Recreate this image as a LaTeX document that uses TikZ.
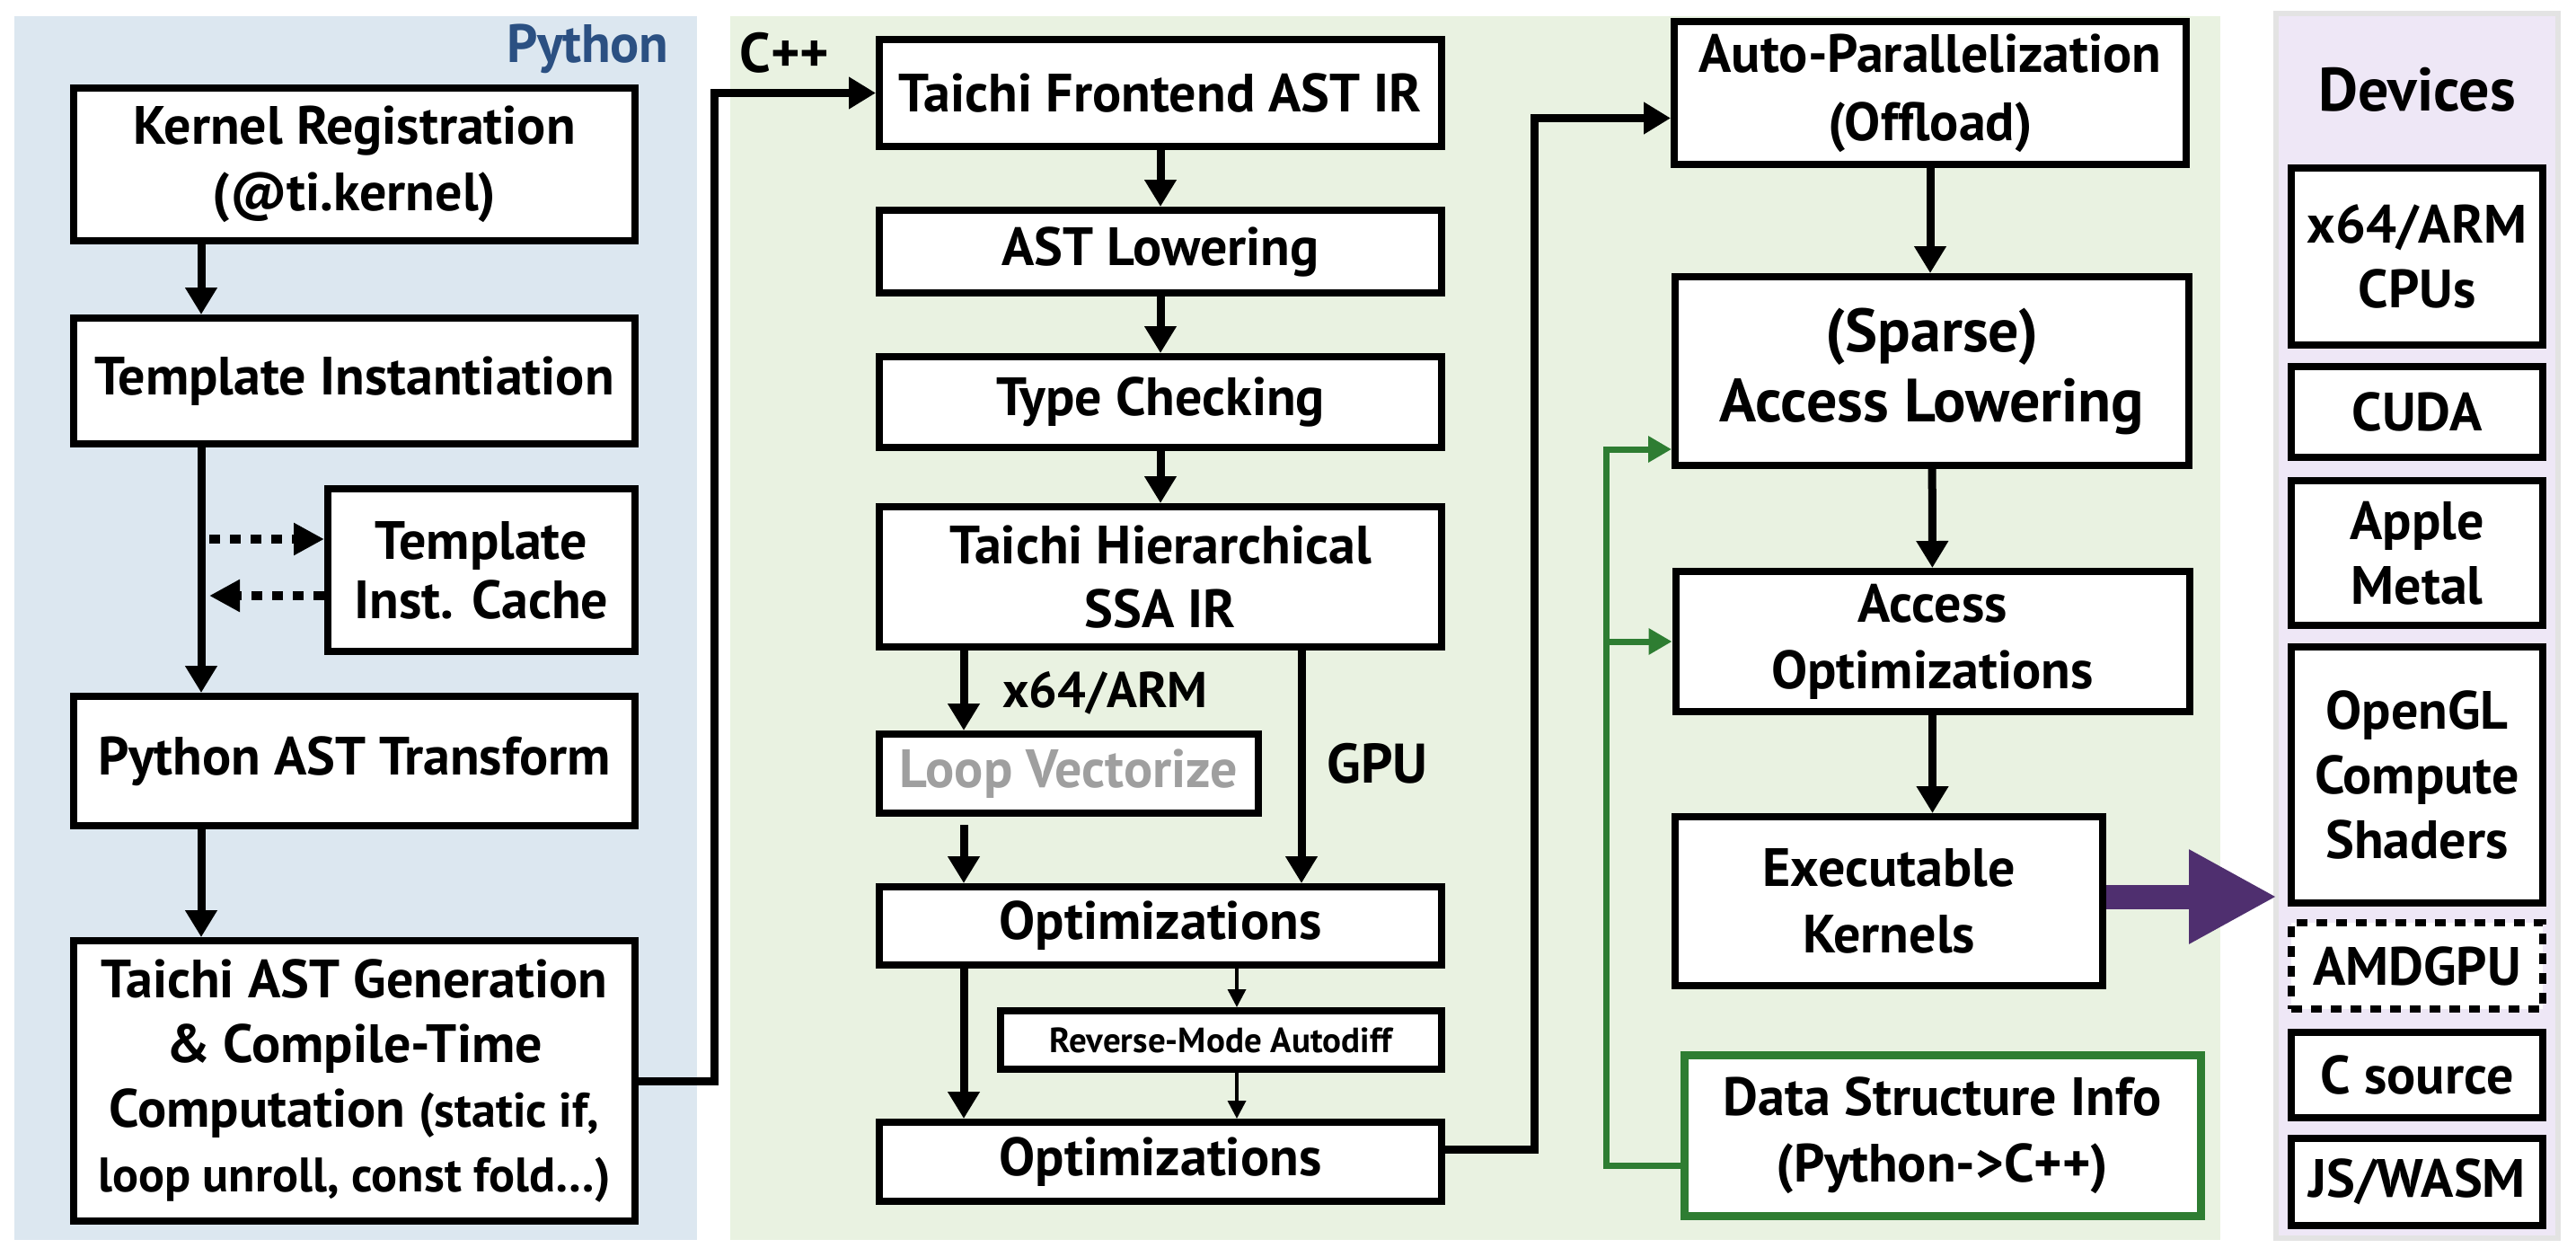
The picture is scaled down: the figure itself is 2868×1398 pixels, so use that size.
\documentclass[tikz,border=0pt]{standalone}
\usepackage{fontspec}
\setmainfont{PT Sans}
\usetikzlibrary{arrows.meta}

\definecolor{pyblue}{HTML}{DCE7F0}
\definecolor{cppgreen}{HTML}{E9F2E1}
\definecolor{devpurple}{HTML}{EEE7F6}
\definecolor{pytext}{HTML}{2B5082}
\definecolor{dsgreen}{HTML}{2E7D32}
\definecolor{kernpurple}{HTML}{4F2F6F}

\tikzset{
  box/.style={draw, line width=4pt, fill=white, align=center, inner sep=0pt,
    font=\fontsize{30}{37}\selectfont\bfseries},
  pybox/.style={box, minimum width=312.5pt},
  cbox/.style={box, minimum width=313pt},
  rbox/.style={box, minimum width=286pt},
  devbox/.style={box, minimum width=140pt, font=\fontsize{30}{36}\selectfont\bfseries},
  arr/.style={line width=4.5pt, -{Triangle[width=17pt,length=15pt]}},
  thinarr/.style={line width=1.8pt, -{Triangle[width=10pt,length=10pt]}},
  dotarr/.style={line width=5pt, dash pattern=on 6pt off 5.5pt, -{Triangle[width=17pt,length=17pt]}},
  garr/.style={draw=dsgreen, line width=3.5pt, -{Triangle[width=14pt,length=13pt]}},
  fatarr/.style={draw=kernpurple, line width=13.5pt, -{Triangle[width=49pt,length=49pt]}},
  lbl/.style={font=\fontsize{28}{30}\selectfont\bfseries, inner sep=0pt},
}

\begin{document}
\begin{tikzpicture}[x=0.5pt, y=-0.5pt]
  \fill[white] (0,0) rectangle (2868,1398);
  \useasboundingbox (0,0) rectangle (2868,1398);
  % panels
  \fill[pyblue] (16,18) rectangle (776,1380);
  \fill[cppgreen] (813,18) rectangle (2472,1380);
  \filldraw[fill=devpurple, draw=gray!22, line width=3pt] (2534,15) rectangle (2848,1378);
  \node[lbl, font=\fontsize{30}{30}\selectfont\bfseries, text=pytext, anchor=base east] (pylbl) at (745,69) {Python};
  \node[lbl, font=\fontsize{31}{30}\selectfont\bfseries, anchor=base west] (cpplbl) at (823,80) {C++};
  \node[lbl, font=\fontsize{34}{30}\selectfont\bfseries, anchor=base] (devlbl) at (2691,123) {Devices};

  % python side
  \node[pybox, minimum height=85pt] (kr) at (394.5,183) {Kernel Registration\\(@ti.kernel)};
  \node[pybox, minimum height=70pt] (ti) at (394.5,424) {Template Instantiation};
  \node[box, minimum width=171pt, minimum height=90.5pt, font=\fontsize{30}{33}\selectfont\bfseries] (tic) at (536,634.5) {Template\\Inst. Cache};
  \node[pybox, minimum height=72pt] (pat) at (394.5,847) {Python AST Transform};
  \node[pybox, minimum height=156pt, font=\fontsize{30}{36}\selectfont\bfseries] (tag) at (394.5,1203) {Taichi AST Generation\\\& Compile-Time\\Computation {\fontsize{27}{36}\selectfont(static if,}\\{\fontsize{27}{33}\selectfont loop unroll, const fold\dots)}};

  % c++ side
  \node[cbox, minimum height=59.5pt] (tfa) at (1292,103.5) {Taichi Frontend AST IR};
  \node[cbox, minimum height=46pt] (astl) at (1292,280) {AST Lowering};
  \node[cbox, minimum height=50.5pt] (tc) at (1292,447.5) {Type Checking};
  \node[cbox, minimum height=78pt, font=\fontsize{30}{35.5}\selectfont\bfseries] (ssa) at (1292,642) {Taichi Hierarchical\\SSA IR};
  \node[box, minimum width=211pt, minimum height=44pt, text=gray!75] (lv) at (1190,861) {Loop Vectorize};
  \node[cbox, minimum height=43.5pt] (opt1) at (1292,1030.5) {Optimizations};
  \node[box, minimum width=245.5pt, minimum height=32.5pt, font=\fontsize{19.5}{22}\selectfont\bfseries] (rma) at (1359.5,1157.5) {Reverse-Mode Autodiff};
  \node[cbox, minimum height=44pt] (opt2) at (1292,1293) {Optimizations};

  \node[rbox, minimum width=285pt, minimum height=79.5pt, font=\fontsize{30}{38}\selectfont\bfseries] (ap) at (2149,103.5) {Auto-Parallelization\\(Offload)};
  \node[rbox, minimum height=105pt, font=\fontsize{34}{39}\selectfont\bfseries] (sal) at (2151,413) {(Sparse)\\Access Lowering};
  \node[rbox, minimum height=78pt] (ao) at (2151.5,714) {Access\\Optimizations};
  \node[box, minimum width=238pt, minimum height=94pt] (ek) at (2103,1003) {Executable\\Kernels};
  \node[rbox, minimum width=287.5pt, minimum height=89.5pt, draw=dsgreen, line width=4.5pt, font=\fontsize{30}{37}\selectfont\bfseries] (dsi) at (2162.5,1263.5) {Data Structure Info\\(Python->C++)};

  % devices
  \node[devbox, minimum height=98.5pt] (cpu) at (2691,285.5) {x64/ARM\\CPUs};
  \node[devbox, minimum height=50.5pt] (cuda) at (2691,458.5) {CUDA};
  \node[devbox, minimum height=80.5pt] (metal) at (2691,615.5) {Apple\\Metal};
  \node[devbox, minimum height=142.5pt] (ogl) at (2691,862.5) {OpenGL\\Compute\\Shaders};
  \node[devbox, minimum height=48pt, dash pattern=on 6pt off 5pt] (amd) at (2691,1075) {AMDGPU};
  \node[devbox, minimum height=47.5pt] (csrc) at (2691,1196.5) {C source};
  \node[devbox, minimum height=48.5pt] (js) at (2691,1315.5) {JS/WASM};

  % connectors
  \coordinate (pyx) at (224,0);
  \coordinate (cache1) at (233,600);
  \coordinate (cache2) at (233,663);
  \coordinate (cppjog) at (795,600);
  \coordinate (mainx) at (1073,0);
  \coordinate (gpux) at (1449,0);
  \coordinate (adx) at (1377,0);
  \coordinate (offjog) at (1708,600);
  \coordinate (dsjog) at (1788,900);
  \coordinate (devin) at (2535,998);
  \coordinate (lvout) at ([yshift=-4.5pt]lv.south);

  \draw[arr] (kr.south -| pyx) -- (ti.north -| pyx);
  \draw[arr] (ti.south -| pyx) -- (pat.north -| pyx);
  \draw[arr] (pat.south -| pyx) -- (tag.north -| pyx);
  \draw[dotarr] (cache1) -- (cache1 -| tic.west);
  \draw[dotarr] (cache2 -| tic.west) -- (cache2);
  \draw[arr] (tag.east) -| (cppjog) |- (tfa.west);

  \draw[arr] (tfa) -- (astl);
  \draw[arr] (astl) -- (tc);
  \draw[arr] (tc) -- (ssa);
  \draw[arr] (ssa.south -| mainx) -- (lv.north -| mainx);
  \node[lbl, anchor=base west] (cpulbl) at (1116,787) {x64/ARM};
  \draw[arr] (ssa.south -| gpux) -- (opt1.north -| gpux);
  \node[lbl, font=\fontsize{31}{30}\selectfont\bfseries, anchor=base west] (gpulbl) at (1477,871) {GPU};
  \draw[arr] (lvout -| mainx) -- (opt1.north -| mainx);
  \draw[arr] (opt1.south -| mainx) -- (opt2.north -| mainx);
  \draw[thinarr] (opt1.south -| adx) -- (rma.north -| adx);
  \draw[thinarr] (rma.south -| adx) -- (opt2.north -| adx);
  \draw[arr] ([yshift=7pt]opt2.east) -| (offjog) |- ([yshift=-14pt]ap.west);

  \draw[arr] (ap.south) -- (ap.south |- sal.north);
  \draw[arr] (sal) -- (ao);
  \draw[arr] (ao.south) -- (ao.south |- ek.north);
  \draw[garr] ([yshift=-17pt]dsi.west) -| (dsjog) |- ([yshift=-43.5pt]sal.west);
  \draw[garr] (dsjog |- ao.west) -- (ao.west);
  \draw[fatarr] (ek.east |- devin) -- (devin);
\end{tikzpicture}
\end{document}
